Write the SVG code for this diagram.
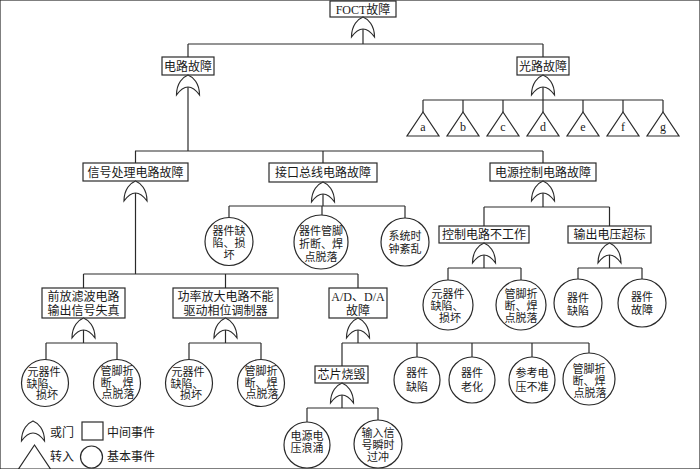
<svg xmlns="http://www.w3.org/2000/svg" xmlns:xlink="http://www.w3.org/1999/xlink" width="700" height="469" viewBox="0 0 700 469">
<style>
rect{fill:#fff;stroke:#2a2a2a;stroke-width:1.2}
circle{fill:#fff;stroke:#2a2a2a;stroke-width:1.2}
.gate,.tri{fill:#fff;stroke:#2a2a2a;stroke-width:1.2}
#connectors line{stroke:#2a2a2a;stroke-width:1.2}
text{font-family:"Liberation Serif","Noto Sans CJK SC",serif;font-size:12px;fill:#1a1a1a;text-anchor:middle}
text.e{font-size:11px}
text.l{text-anchor:start}
</style>
<defs>
<path id="or" class="gate" d="M-11.5,20 C-11.5,8 -5,2 0,0 C5,2 11.5,8 11.5,20 Q0,4 -11.5,20 Z"/>
<path id="tr" class="tri" d="M0,0 L16,24 L-16,24 Z"/>
</defs>
<rect x="0" y="0" width="700" height="469" fill="#fff" stroke="none"/>
<g id="connectors">
<line x1="363" y1="29" x2="363" y2="44"/>
<line x1="188" y1="44" x2="543" y2="44"/>
<line x1="188" y1="44" x2="188" y2="57"/>
<line x1="543" y1="44" x2="543" y2="57"/>
<line x1="188" y1="87" x2="188" y2="151"/>
<line x1="135" y1="151" x2="543" y2="151"/>
<line x1="135.5" y1="151" x2="135.5" y2="163"/>
<line x1="323" y1="151" x2="323" y2="163"/>
<line x1="543" y1="151" x2="543" y2="163"/>
<line x1="543" y1="87" x2="543" y2="100"/>
<line x1="423" y1="100" x2="663" y2="100"/>
<line x1="423" y1="100" x2="423" y2="112"/>
<line x1="463" y1="100" x2="463" y2="112"/>
<line x1="503" y1="100" x2="503" y2="112"/>
<line x1="543" y1="100" x2="543" y2="112"/>
<line x1="583" y1="100" x2="583" y2="112"/>
<line x1="623" y1="100" x2="623" y2="112"/>
<line x1="663" y1="100" x2="663" y2="112"/>
<line x1="135.5" y1="193" x2="135.5" y2="274"/>
<line x1="83.5" y1="274" x2="358" y2="274"/>
<line x1="83.5" y1="274" x2="83.5" y2="288"/>
<line x1="225.5" y1="274" x2="225.5" y2="288"/>
<line x1="358" y1="274" x2="358" y2="288"/>
<line x1="323" y1="194" x2="323" y2="206"/>
<line x1="229" y1="206" x2="405" y2="206"/>
<line x1="229" y1="206" x2="229" y2="218"/>
<line x1="322" y1="206" x2="322" y2="215"/>
<line x1="405" y1="206" x2="405" y2="218"/>
<line x1="543" y1="193" x2="543" y2="207"/>
<line x1="484" y1="207" x2="609.5" y2="207"/>
<line x1="484" y1="207" x2="484" y2="226"/>
<line x1="609.5" y1="207" x2="609.5" y2="226"/>
<line x1="484" y1="255" x2="484" y2="268"/>
<line x1="448" y1="268" x2="521" y2="268"/>
<line x1="448" y1="268" x2="448" y2="280"/>
<line x1="521" y1="268" x2="521" y2="280"/>
<line x1="609.5" y1="255" x2="609.5" y2="268"/>
<line x1="578" y1="268" x2="642" y2="268"/>
<line x1="578" y1="268" x2="578" y2="279"/>
<line x1="642" y1="268" x2="642" y2="279"/>
<line x1="83.5" y1="330" x2="83.5" y2="343"/>
<line x1="46" y1="343" x2="117" y2="343"/>
<line x1="46" y1="343" x2="46" y2="360"/>
<line x1="117" y1="343" x2="117" y2="360"/>
<line x1="225.5" y1="330" x2="225.5" y2="343"/>
<line x1="189" y1="343" x2="261" y2="343"/>
<line x1="189" y1="343" x2="189" y2="360"/>
<line x1="261" y1="343" x2="261" y2="359"/>
<line x1="358" y1="330" x2="358" y2="343"/>
<line x1="342" y1="343" x2="589" y2="343"/>
<line x1="342" y1="343" x2="342" y2="366"/>
<line x1="417" y1="343" x2="417" y2="357"/>
<line x1="472" y1="343" x2="472" y2="357"/>
<line x1="532" y1="343" x2="532" y2="357"/>
<line x1="589" y1="343" x2="589" y2="353"/>
<line x1="342" y1="395" x2="342" y2="408"/>
<line x1="307" y1="408" x2="378" y2="408"/>
<line x1="307" y1="408" x2="307" y2="422"/>
<line x1="378" y1="408" x2="378" y2="420"/>
</g>
<g id="foct"><rect x="330" y="1" width="66" height="16"/><text x="363" y="13.5">FOCT故障</text><use xlink:href="#or" x="363" y="17"/></g>
<g id="circuit"><rect x="162" y="57" width="52" height="18"/><text x="188" y="70.5">电路故障</text><use xlink:href="#or" x="188" y="75"/></g>
<g id="optical"><rect x="517" y="57" width="52" height="18"/><text x="543" y="70.5">光路故障</text><use xlink:href="#or" x="543" y="75"/></g>
<g id="tri-a"><use xlink:href="#tr" x="423" y="112"/><text x="423" y="131">a</text></g>
<g id="tri-b"><use xlink:href="#tr" x="463" y="112"/><text x="463" y="131">b</text></g>
<g id="tri-c"><use xlink:href="#tr" x="503" y="112"/><text x="503" y="131">c</text></g>
<g id="tri-d"><use xlink:href="#tr" x="543" y="112"/><text x="543" y="131">d</text></g>
<g id="tri-e"><use xlink:href="#tr" x="583" y="112"/><text x="583" y="131">e</text></g>
<g id="tri-f"><use xlink:href="#tr" x="623" y="112"/><text x="623" y="131">f</text></g>
<g id="tri-g"><use xlink:href="#tr" x="663" y="112"/><text x="663" y="131">g</text></g>
<g id="signal"><rect x="83" y="163" width="105" height="18"/><text x="135.5" y="176.5">信号处理电路故障</text><use xlink:href="#or" x="135.5" y="181"/></g>
<g id="bus"><rect x="269" y="163" width="108" height="19"/><text x="323" y="177">接口总线电路故障</text><use xlink:href="#or" x="323" y="182"/></g>
<g id="power"><rect x="490" y="163" width="106" height="18"/><text x="543" y="176.5">电源控制电路故障</text><use xlink:href="#or" x="543" y="181"/></g>
<g id="bus-e1"><circle cx="229" cy="241.5" r="24"/><text class="e" x="229" y="235">器件缺<tspan x="229" dy="12">陷、损</tspan><tspan x="229" dy="12">坏</tspan></text></g>
<g id="bus-e2"><circle cx="321" cy="242" r="27"/><text class="e" x="321" y="234.5">器件管脚<tspan x="321" dy="13">折断、焊</tspan><tspan x="321" dy="13">点脱落</tspan></text></g>
<g id="bus-e3"><circle cx="405" cy="242" r="24"/><text class="e" x="405" y="239.5">系统时<tspan x="405" dy="13">钟紊乱</tspan></text></g>
<g id="ctrl"><rect x="439" y="226" width="90" height="17"/><text x="484" y="239">控制电路不工作</text><use xlink:href="#or" x="484" y="243"/></g>
<g id="overv"><rect x="568" y="226" width="83" height="17"/><text x="609.5" y="239">输出电压超标</text><use xlink:href="#or" x="609.5" y="243"/></g>
<g id="ctrl-e1"><circle cx="448" cy="305" r="25"/><text class="e" x="448" y="297.5">元器件<tspan x="447" dy="12">缺陷、</tspan><tspan x="450" dy="12">损坏</tspan></text></g>
<g id="ctrl-e2"><circle cx="521" cy="305" r="25"/><text class="e" x="521" y="297.5">管脚折<tspan x="521" dy="12">断、焊</tspan><tspan x="521" dy="12.5">点脱落</tspan></text></g>
<g id="overv-e1"><circle cx="578" cy="303" r="24"/><text class="e" x="578" y="302">器件<tspan x="578" dy="13">缺陷</tspan></text></g>
<g id="overv-e2"><circle cx="642" cy="303" r="24"/><text class="e" x="642" y="300.5">器件<tspan x="642" dy="13">故障</tspan></text></g>
<g id="preamp"><rect x="42" y="288" width="83" height="30"/><text x="83.5" y="301">前放滤波电路<tspan x="83.5" dy="14">输出信号失真</tspan></text><use xlink:href="#or" x="83.5" y="318"/></g>
<g id="amp"><rect x="173" y="288" width="105" height="30"/><text x="225.5" y="301">功率放大电路不能<tspan x="225.5" dy="14">驱动相位调制器</tspan></text><use xlink:href="#or" x="225.5" y="318"/></g>
<g id="adda"><rect x="329" y="288" width="58" height="30"/><text x="358" y="301">A/D、D/A<tspan x="358" dy="14">故障</tspan></text><use xlink:href="#or" x="358" y="318"/></g>
<g id="pre-e1"><circle cx="45" cy="383" r="23.5"/><text class="e" x="44" y="376">元器件<tspan x="43" dy="11.5">缺陷、</tspan><tspan x="47" dy="11.5">损坏</tspan></text></g>
<g id="pre-e2"><circle cx="117" cy="383" r="23.5"/><text class="e" x="117" y="375">管脚折<tspan x="117" dy="11.5">断、焊</tspan><tspan x="118" dy="11.5">点脱落</tspan></text></g>
<g id="amp-e1"><circle cx="189" cy="383" r="23.5"/><text class="e" x="188" y="376">元器件<tspan x="187" dy="11.5">缺陷、</tspan><tspan x="191" dy="11.5">损坏</tspan></text></g>
<g id="amp-e2"><circle cx="261" cy="383" r="23.5"/><text class="e" x="261" y="375">管脚折<tspan x="261" dy="11.5">断、焊</tspan><tspan x="262" dy="11.5">点脱落</tspan></text></g>
<g id="chip"><rect x="315" y="366" width="53" height="17"/><text x="341.5" y="379">芯片烧毁</text><use xlink:href="#or" x="342" y="383"/></g>
<g id="ad-e1"><circle cx="417" cy="380" r="23"/><text class="e" x="417" y="376.5">器件<tspan x="417" dy="14">缺陷</tspan></text></g>
<g id="ad-e2"><circle cx="472" cy="380" r="23"/><text class="e" x="472" y="376.5">器件<tspan x="472" dy="14">老化</tspan></text></g>
<g id="ad-e3"><circle cx="532" cy="380" r="23"/><text class="e" x="532" y="376.5">参考电<tspan x="532" dy="14">压不准</tspan></text></g>
<g id="ad-e4"><circle cx="589" cy="379" r="26"/><text class="e" x="589" y="372.5">管脚折<tspan x="589" dy="12">断、焊</tspan><tspan x="590" dy="12">点脱落</tspan></text></g>
<g id="chip-e1"><circle cx="307" cy="445" r="23"/><text class="e" x="307" y="439.5">电源电<tspan x="307" dy="12">压浪涌</tspan></text></g>
<g id="chip-e2"><circle cx="378" cy="444" r="24"/><text class="e" x="378" y="436.5">输入信<tspan x="378" dy="12.5">号瞬时</tspan><tspan x="378" dy="12">过冲</tspan></text></g>
<g id="legend">
<use xlink:href="#or" x="33" y="421"/>
<text class="l" x="50" y="436.5">或门</text>
<rect x="82" y="422" width="21" height="18"/>
<text class="l" x="107" y="436.5">中间事件</text>
<use xlink:href="#tr" x="34.5" y="445"/>
<text class="l" x="50" y="461">转入</text>
<circle cx="91.5" cy="457" r="11"/>
<text class="l" x="107" y="461">基本事件</text>
</g>
</svg>
